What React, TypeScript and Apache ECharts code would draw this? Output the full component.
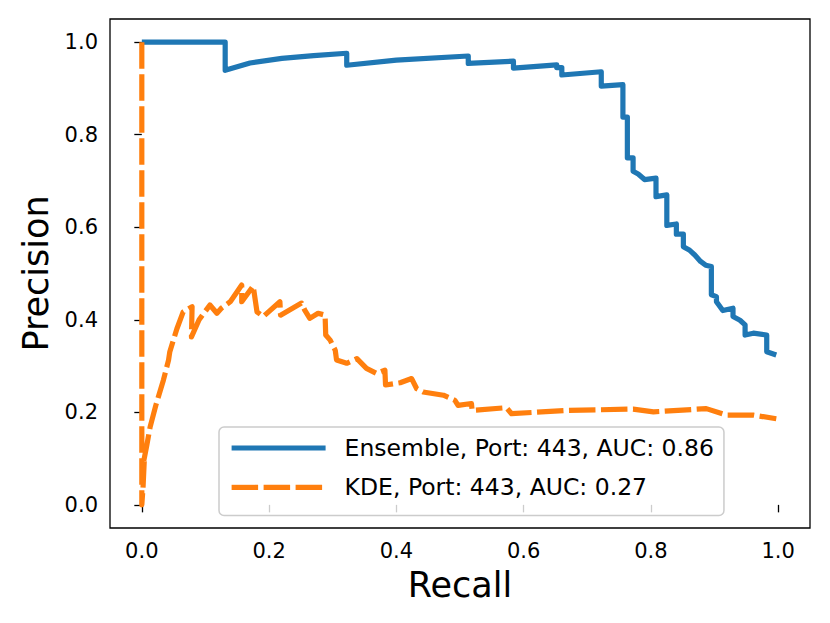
import React, { useEffect, useRef } from "react";
import * as echarts from "echarts";

const FONT = "DejaVu Sans";

const xTicks = [0, 0.2, 0.4, 0.6, 0.8, 1.0];
const yTicks = [0, 0.2, 0.4, 0.6, 0.8, 1.0];

const ensembleName = "Ensemble, Port: 443, AUC: 0.86";
const kdeName = "KDE, Port: 443, AUC: 0.27";

const ensembleRecall = [
  0, 0.131, 0.131, 0.17, 0.22, 0.27, 0.322, 0.322, 0.4, 0.513, 0.513, 0.584,
  0.584, 0.652, 0.652, 0.66, 0.66, 0.722, 0.722, 0.756, 0.756, 0.763, 0.763,
  0.772, 0.772, 0.78, 0.79, 0.808, 0.808, 0.825, 0.825, 0.84, 0.84, 0.851,
  0.851, 0.861, 0.869, 0.878, 0.886, 0.895, 0.895, 0.903, 0.903, 0.913, 0.929,
  0.929, 0.94, 0.948, 0.948, 0.961, 0.982, 0.982, 0.997,
];
const ensemblePrecision = [
  1.0, 1.0, 0.939, 0.955, 0.965, 0.971, 0.976, 0.95, 0.961, 0.97, 0.954, 0.959,
  0.944, 0.951, 0.945, 0.945, 0.929, 0.936, 0.905, 0.908, 0.838, 0.838, 0.75,
  0.75, 0.721, 0.715, 0.703, 0.706, 0.666, 0.67, 0.604, 0.607, 0.585, 0.585,
  0.558, 0.55, 0.54, 0.526, 0.518, 0.515, 0.454, 0.45, 0.439, 0.42, 0.425,
  0.407, 0.399, 0.389, 0.367, 0.371, 0.367, 0.331, 0.324,
];

const kdeRecall = [
  0, 0, 0.002, 0.004, 0.003, 0.008, 0.013, 0.022, 0.034, 0.042, 0.044, 0.055,
  0.065, 0.079, 0.078, 0.09, 0.107, 0.118, 0.125, 0.139, 0.157, 0.157, 0.175,
  0.181, 0.191, 0.217, 0.218, 0.251, 0.256, 0.264, 0.277, 0.288, 0.289, 0.296,
  0.304, 0.306, 0.322, 0.338, 0.353, 0.369, 0.382, 0.383, 0.406, 0.424, 0.432,
  0.442, 0.474, 0.492, 0.497, 0.518, 0.519, 0.573, 0.581, 0.667, 0.772, 0.804,
  0.887, 0.919, 0.961, 0.997,
];
const kdePrecision = [
  1.0, 0.0, 0.04, 0.1, 0.095, 0.13, 0.168, 0.215, 0.27, 0.313, 0.331, 0.38,
  0.417, 0.428, 0.363, 0.4, 0.432, 0.414, 0.425, 0.439, 0.475, 0.439, 0.473,
  0.417, 0.407, 0.439, 0.41, 0.436, 0.421, 0.403, 0.414, 0.41, 0.367, 0.356,
  0.334, 0.313, 0.306, 0.316, 0.295, 0.284, 0.291, 0.259, 0.264, 0.273, 0.251,
  0.244, 0.237, 0.226, 0.215, 0.219, 0.204, 0.21, 0.197, 0.204, 0.207, 0.201,
  0.208, 0.194, 0.194, 0.186,
];

const pairs = (xs: number[], ys: number[]) => xs.map((x, i) => [x, ys[i]]);

export default function App() {
  const ref = useRef<HTMLDivElement>(null);
  useEffect(() => {
    document.body.style.margin = "0";
    if (!ref.current) return;
    const chart = echarts.init(ref.current, undefined, { renderer: "svg" });
    const axisCommon = {
      type: "value" as const,
      min: -0.05,
      max: 1.05,
      splitLine: { show: false },
      axisLine: { show: false },
      axisTick: {
        show: true,
        inside: false,
        length: 7.5,
        lineStyle: { color: "#000", width: 1.3 },
      },
    };
    const labelCommon = {
      formatter: (v: number) => v.toFixed(1),
      fontSize: 21,
      fontFamily: FONT,
      color: "#000",
    };
    chart.setOption({
      animation: false,
      backgroundColor: "#fff",
      textStyle: { fontFamily: FONT },
      grid: {
        left: 110,
        top: 19,
        width: 700,
        height: 509,
        show: true,
        borderColor: "#000",
        borderWidth: 1.3,
        backgroundColor: "transparent",
      },
      xAxis: {
        ...axisCommon,
        axisTick: { ...axisCommon.axisTick, customValues: xTicks },
        axisLabel: { ...labelCommon, customValues: xTicks, margin: 12 },
        name: "Recall",
        nameLocation: "middle",
        nameGap: 39,
        nameTextStyle: { fontSize: 35, fontFamily: FONT, color: "#000" },
      },
      yAxis: {
        ...axisCommon,
        axisTick: { ...axisCommon.axisTick, customValues: yTicks },
        axisLabel: { ...labelCommon, customValues: yTicks, margin: 12 },
        name: "Precision",
        nameLocation: "middle",
        nameGap: 57,
        nameTextStyle: { fontSize: 35, fontFamily: FONT, color: "#000" },
      },
      legend: {
        orient: "vertical",
        left: 219,
        top: 427,
        selectedMode: false,
        itemWidth: 94,
        itemHeight: 28,
        itemGap: 11.4,
        padding: [7, 10, 14, 10],
        backgroundColor: "rgba(255,255,255,0.8)",
        borderColor: "#cccccc",
        borderWidth: 1.5,
        borderRadius: 5,
        itemStyle: { opacity: 0 },
        lineStyle: { width: 5.2 },
        textStyle: {
          fontSize: 23.5,
          fontFamily: FONT,
          color: "#000",
          padding: [0, 0, 0, 14],
          lineHeight: 28,
        },
        data: [ensembleName, kdeName],
      },
      series: [
        {
          name: ensembleName,
          type: "line",
          data: pairs(ensembleRecall, ensemblePrecision),
          symbol: "none",
          showSymbol: false,
          color: "#1f77b4",
          lineStyle: { width: 5.2, color: "#1f77b4", join: "round", cap: "butt" },
          silent: true,
        },
        {
          name: kdeName,
          type: "line",
          data: pairs(kdeRecall, kdePrecision),
          symbol: "none",
          showSymbol: false,
          color: "#ff7f0e",
          lineStyle: {
            width: 5.2,
            color: "#ff7f0e",
            type: [26.5, 5.5],
            join: "round",
            cap: "butt",
          },
          silent: true,
        },
      ],
    });
    return () => chart.dispose();
  }, []);
  return <div ref={ref} style={{ width: 830, height: 623 }} />;
}
